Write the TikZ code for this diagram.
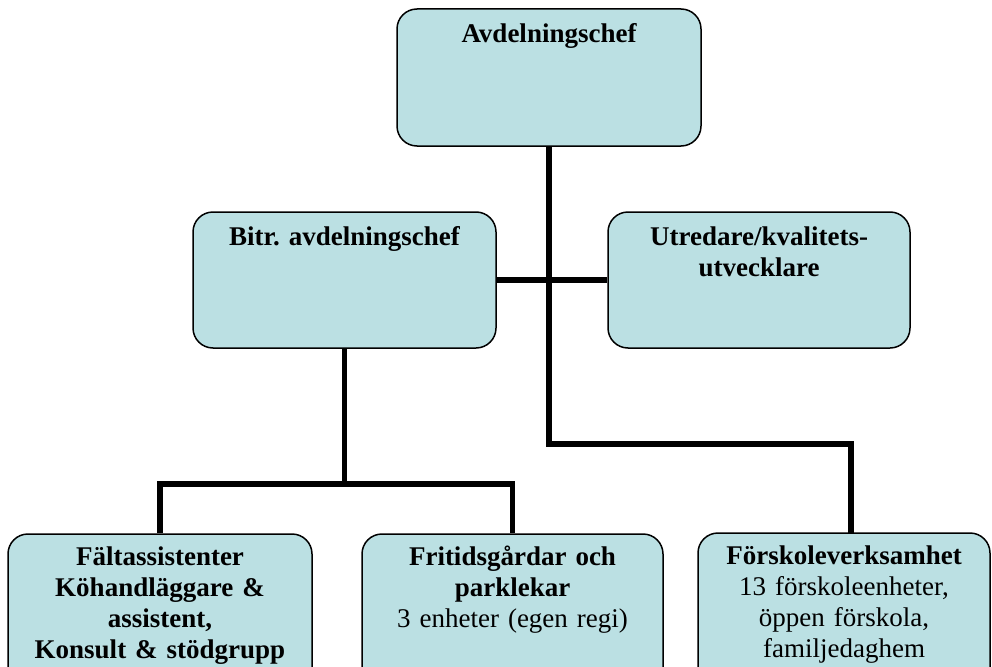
\documentclass[tikz,border=0pt]{standalone}
\usepackage{fontspec}
\setmainfont{Liberation Serif}
\usetikzlibrary{calc}
\definecolor{boxfill}{RGB}{187,224,227}
\frenchspacing
\tikzset{
  orgbox/.style={draw=black, line width=1.5pt, fill=boxfill, rounded corners=20pt, inner sep=0pt},
  orgtext/.style={anchor=north, inner sep=0pt, align=center, text width=#1,
    font=\fontsize{27}{31}\selectfont\bfseries},
  link/.style={draw=black, line width=5.5pt, line join=miter, line cap=butt}
}
\newcommand{\firstline}{\rule{0pt}{24pt}}
\begin{document}
\begin{tikzpicture}[x=1pt,y=-1pt]
\useasboundingbox (0,0) rectangle (992,666);
\clip (0,0) rectangle (992,666);
% boxes
\node[orgbox, minimum width=304, minimum height=137] (avd) at (549,77.5) {};
\node[orgbox, minimum width=303, minimum height=136] (bitr) at (344.5,280) {};
\node[orgbox, minimum width=302, minimum height=136] (utr) at (759,280) {};
\node[orgbox, minimum width=304, minimum height=160] (falt) at (160,614) {};
\node[orgbox, minimum width=301, minimum height=160] (frit) at (512.5,614) {};
\node[orgbox, minimum width=292, minimum height=160] (fors) at (844,613) {};
% texts
\node[orgtext=290pt] (avdT) at ($(avd.north)+(0,10)$) {\firstline Avdelningschef};
\node[orgtext=290pt] (bitrT) at ($(bitr.north)+(0,10)$) {\firstline Bitr. avdelningschef};
\node[orgtext=290pt] (utrT) at ($(utr.north)+(0,10)$) {\firstline Utredare/kvalitets-\\utvecklare};
\node[orgtext=296pt] (faltT) at ($(falt.north)+(0,8)$) {\firstline Fältassistenter\\Köhandläggare \&\\assistent,\\Konsult \& stödgrupp};
\node[orgtext=290pt] (fritT) at ($(frit.north)+(0,8)$) {\firstline Fritidsgårdar och\\parklekar\\\mdseries 3 enheter (egen regi)};
\node[orgtext=286pt] (forsT) at ($(fors.north)+(0,8)$) {\firstline Förskoleverksamhet\\\mdseries 13 förskoleenheter,\\öppen förskola,\\familjedaghem};
% connector points
\coordinate (c1) at (549,444);
\coordinate (c2) at (851,444);
\coordinate (c3) at (851,533);
\coordinate (d1) at (344.5,484);
\coordinate (d2) at (160,484);
\coordinate (d3) at (512.5,484);
% connectors
\draw[link] (avd.south) -- (c1) -- (c2) -- (c3);
\draw[link] (bitr.east) -- (utr.west);
\draw[link] (bitr.south) -- (d1);
\draw[link] (falt.north) -- (d2) -- (d3) -- (frit.north);
\end{tikzpicture}
\end{document}
